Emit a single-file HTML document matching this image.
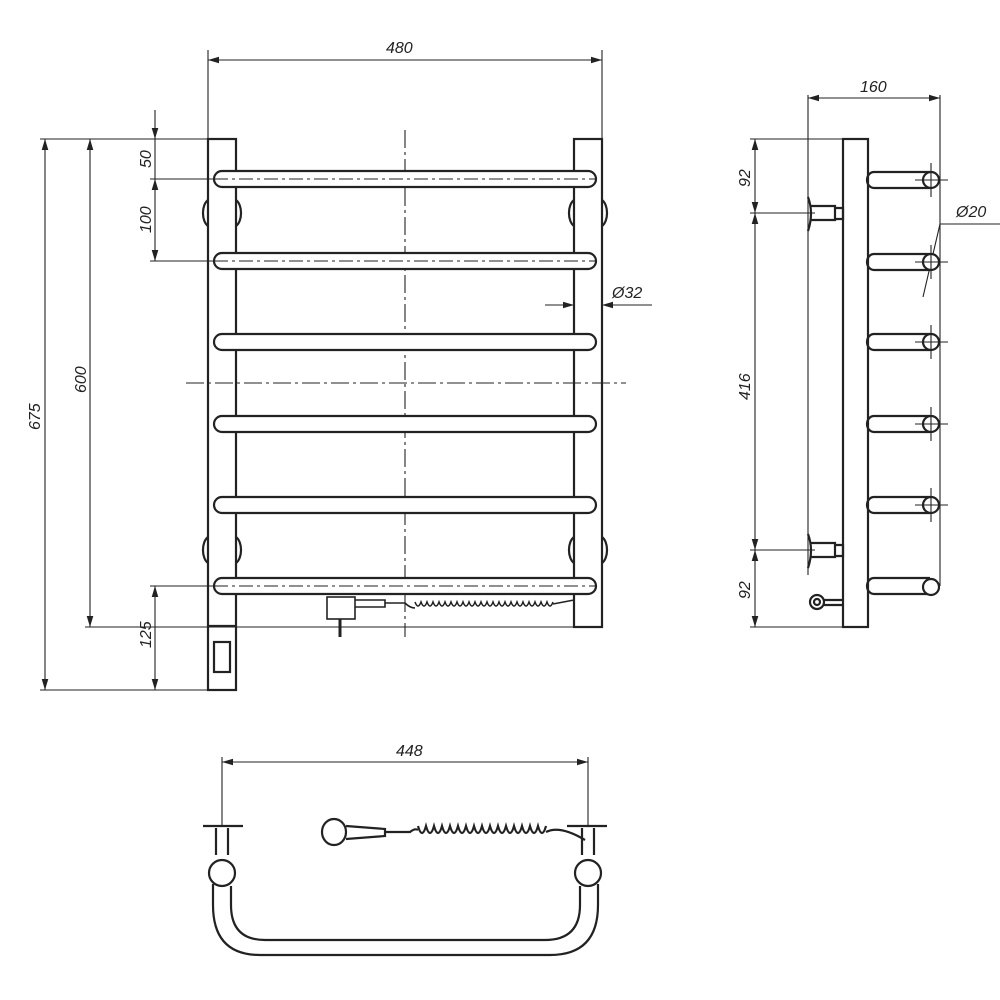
<!DOCTYPE html>
<html><head><meta charset="utf-8"><style>
html,body{margin:0;padding:0;background:#fff;}
svg{display:block;}
text{font-family:"Liberation Sans",sans-serif;font-style:italic;font-size:16px;fill:#222;}
</style></head><body>
<svg width="1000" height="1000" viewBox="0 0 1000 1000" xmlns="http://www.w3.org/2000/svg">
<defs>
<marker id="a" viewBox="0 0 10 6" refX="10" refY="3" markerWidth="10" markerHeight="6" orient="auto-start-reverse"><path d="M0,0 L10,3 L0,6z" fill="#222"/></marker>
</defs>
<g stroke="#222" fill="none" stroke-width="1.1">
<line x1="208" y1="50" x2="208" y2="139"/><line x1="602" y1="50" x2="602" y2="139"/>
<line x1="208" y1="60" x2="602" y2="60" marker-start="url(#a)" marker-end="url(#a)"/>
<line x1="40" y1="139" x2="236" y2="139"/>
<line x1="150" y1="179" x2="214" y2="179"/>
<line x1="150" y1="261" x2="214" y2="261"/>
<line x1="150" y1="586" x2="214" y2="586"/>
<line x1="85" y1="627" x2="574" y2="627"/>
<line x1="40" y1="690" x2="208" y2="690"/>
<line x1="45" y1="139" x2="45" y2="690" marker-start="url(#a)" marker-end="url(#a)"/>
<line x1="90" y1="139" x2="90" y2="627" marker-start="url(#a)" marker-end="url(#a)"/>
<line x1="155" y1="110" x2="155" y2="139" marker-end="url(#a)"/>
<line x1="155" y1="179" x2="155" y2="261" marker-start="url(#a)" marker-end="url(#a)"/>
<line x1="155" y1="586" x2="155" y2="690" marker-start="url(#a)" marker-end="url(#a)"/>
<line x1="155" y1="139" x2="155" y2="179"/>
<line x1="405" y1="130" x2="405" y2="637" stroke-dasharray="18,4,3,4"/>
<line x1="186" y1="383" x2="626" y2="383" stroke-dasharray="18,4,3,4"/>
<g stroke-width="2.2">
<rect x="208" y="139" width="28" height="551"/>
<line x1="208" y1="626" x2="236" y2="626"/>
<rect x="214" y="642" width="16" height="30"/>
<rect x="574" y="139" width="28" height="488"/>
<rect x="214" y="171" width="382" height="16" rx="8" fill="#fff"/>
<rect x="214" y="253" width="382" height="16" rx="8" fill="#fff"/>
<rect x="214" y="334" width="382" height="16" rx="8" fill="#fff"/>
<rect x="214" y="416" width="382" height="16" rx="8" fill="#fff"/>
<rect x="214" y="497" width="382" height="16" rx="8" fill="#fff"/>
<rect x="214" y="578" width="382" height="16" rx="8" fill="#fff"/>
<path d="M208,200 A8,14 0 0 0 208,226 M236,200 A8,14 0 0 1 236,226"/>
<path d="M574,200 A8,14 0 0 0 574,226 M602,200 A8,14 0 0 1 602,226"/>
<path d="M208,537 A8,14 0 0 0 208,563 M236,537 A8,14 0 0 1 236,563"/>
<path d="M574,537 A8,14 0 0 0 574,563 M602,537 A8,14 0 0 1 602,563"/>
</g>
<line x1="214" y1="179" x2="596" y2="179" stroke-dasharray="14,4,3,4"/>
<line x1="214" y1="261" x2="596" y2="261" stroke-dasharray="14,4,3,4"/>
<line x1="214" y1="586" x2="596" y2="586" stroke-dasharray="14,4,3,4"/>
<g stroke-width="1.6">
<rect x="327" y="597" width="28" height="22"/>
<line x1="340" y1="619" x2="340" y2="637" stroke-width="3"/>
<path d="M355,600 L385,600 L385,607 L355,607"/>
<path d="M385,603 L405,603 Q410,608 415,608"/>
<path d="M415,602 q3,8 6,0 q3,8 6,0 q3,8 6,0 q3,8 6,0 q3,8 6,0 q3,8 6,0 q3,8 6,0 q3,8 6,0 q3,8 6,0 q3,8 6,0 q3,8 6,0 q3,8 6,0 q3,8 6,0 q3,8 6,0 q3,8 6,0 q3,8 6,0 q3,8 6,0 q3,8 6,0 q3,8 6,0 q3,8 6,0 q3,8 6,0 q3,8 6,0 q3,8 6,0"/>
<path d="M553,604 L574,600"/>
</g>
<line x1="545" y1="305" x2="574" y2="305" marker-end="url(#a)"/>
<line x1="652" y1="305" x2="602" y2="305" marker-end="url(#a)"/>
<line x1="808" y1="95" x2="808" y2="575"/>
<line x1="940" y1="95" x2="940" y2="586"/>
<line x1="808" y1="98" x2="940" y2="98" marker-start="url(#a)" marker-end="url(#a)"/>
<line x1="750" y1="139" x2="868" y2="139"/>
<line x1="750" y1="213" x2="815" y2="213"/>
<line x1="750" y1="550" x2="815" y2="550"/>
<line x1="750" y1="627" x2="868" y2="627"/>
<line x1="755" y1="139" x2="755" y2="213" marker-start="url(#a)" marker-end="url(#a)"/>
<line x1="755" y1="213" x2="755" y2="550" marker-start="url(#a)" marker-end="url(#a)"/>
<line x1="755" y1="550" x2="755" y2="627" marker-start="url(#a)" marker-end="url(#a)"/>
<line x1="940" y1="224" x2="1000" y2="224"/>
<line x1="940" y1="224" x2="923" y2="297"/>
<g stroke-width="2.2">
<rect x="843" y="139" width="25" height="488"/>
<path d="M874,172 H930 M874,188 H930 M874,172 A7,8 0 0 0 874,188"/>
<path d="M874,254 H930 M874,270 H930 M874,254 A7,8 0 0 0 874,270"/>
<path d="M874,334 H930 M874,350 H930 M874,334 A7,8 0 0 0 874,350"/>
<path d="M874,416 H930 M874,432 H930 M874,416 A7,8 0 0 0 874,432"/>
<path d="M874,497 H930 M874,513 H930 M874,497 A7,8 0 0 0 874,513"/>
<path d="M874,578 H930 M874,594 H930 M874,578 A7,8 0 0 0 874,594"/>
<circle cx="931" cy="180" r="8" fill="#fff"/><circle cx="931" cy="262" r="8" fill="#fff"/>
<circle cx="931" cy="342" r="8" fill="#fff"/><circle cx="931" cy="424" r="8" fill="#fff"/>
<circle cx="931" cy="505" r="8" fill="#fff"/><circle cx="931" cy="587" r="8" fill="#fff"/>
<path d="M808,197 Q814,213 808,231 M810,206 H835 V220 H810 M835,208 H843 V219 H835"/>
<path d="M808,534 Q814,550 808,568 M810,543 H835 V557 H810 M835,545 H843 V556 H835"/>
<circle cx="817" cy="602" r="7"/><circle cx="817" cy="602" r="3"/>
<path d="M824,600 H843 M824,605 H843"/>
</g>
<path d="M915,180 H948 M931,163 V197 M915,262 H948 M931,245 V279 M915,342 H948 M931,325 V359 M915,424 H948 M931,407 V441 M915,505 H948 M931,488 V522"/>
<line x1="222" y1="757" x2="222" y2="825"/><line x1="588" y1="757" x2="588" y2="825"/>
<line x1="222" y1="762" x2="588" y2="762" marker-start="url(#a)" marker-end="url(#a)"/>
<g stroke-width="2.2">
<line x1="203" y1="826" x2="243" y2="826"/><line x1="567" y1="826" x2="607" y2="826"/>
<path d="M216,828 V855 M228,828 V855 M582,828 V855 M594,828 V855"/>
<circle cx="222" cy="873" r="13"/><circle cx="588" cy="873" r="13"/>
<path d="M213,884 V905 Q213,955 260,955 H550 Q598,955 598,905 V884"/>
<path d="M231,886 V905 Q231,940 265,940 H545 Q580,940 580,905 V886"/>
<path d="M322,832 a12,13 0 1 0 24,0 a12,13 0 1 0 -24,0"/>
<path d="M346,826 L385,829 L385,836 L346,839"/>
<path d="M385,832 H410 Q415,828 418,830"/>
<path d="M418,826 q4,14 8,0 q4,14 8,0 q4,14 8,0 q4,14 8,0 q4,14 8,0 q4,14 8,0 q4,14 8,0 q4,14 8,0 q4,14 8,0 q4,14 8,0 q4,14 8,0 q4,14 8,0 q4,14 8,0 q4,14 8,0 q4,14 8,0 q4,14 8,0"/>
<path d="M546,832 Q560,825 585,840"/>
</g>
</g>
<text x="386" y="53">480</text>
<text x="860" y="92">160</text>
<text x="396" y="756">448</text>
<text x="612" y="298">Ø32</text>
<text x="956" y="217">Ø20</text>
<g>
<text transform="translate(40,430) rotate(-90)">675</text>
<text transform="translate(86,393) rotate(-90)">600</text>
<text transform="translate(151,168) rotate(-90)">50</text>
<text transform="translate(151,233) rotate(-90)">100</text>
<text transform="translate(151,648) rotate(-90)">125</text>
<text transform="translate(750,187) rotate(-90)">92</text>
<text transform="translate(750,400) rotate(-90)">416</text>
<text transform="translate(750,599) rotate(-90)">92</text>
</g>
</svg>
</body></html>
